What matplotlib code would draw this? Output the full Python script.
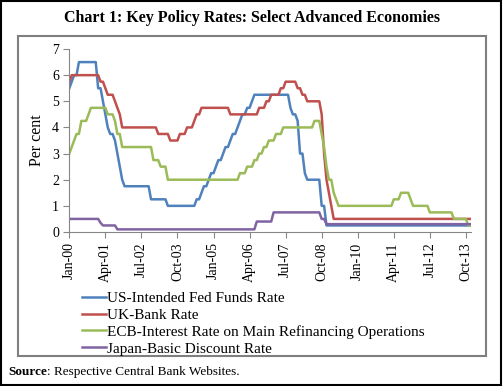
import matplotlib.pyplot as plt
from matplotlib.patches import Rectangle

plt.rcParams['font.family'] = ['Liberation Serif', 'DejaVu Serif']

# monthly policy rates, Jan-2000 .. Dec-2013 (per cent)
us_rate = (
    [5.5, 5.75, 6.0, 6.0, 6.5, 6.5, 6.5, 6.5, 6.5, 6.5, 6.5, 6.5]
    + [5.5, 5.5, 5.0, 4.5, 4.0, 3.75, 3.75, 3.5, 3.0, 2.5, 2.0, 1.75]
    + [1.75] * 10 + [1.25, 1.25]
    + [1.25] * 5 + [1.0] * 7
    + [1.0] * 5 + [1.25, 1.25, 1.5, 1.75, 1.75, 2.0, 2.25]
    + [2.25, 2.5, 2.75, 2.75, 3.0, 3.25, 3.25, 3.5, 3.75, 3.75, 4.0, 4.25]
    + [4.5, 4.5, 4.75, 4.75, 5.0] + [5.25] * 7
    + [5.25] * 8 + [4.75, 4.5, 4.5, 4.25]
    + [3.0, 3.0, 2.25, 2.0, 2.0, 2.0, 2.0, 2.0, 2.0, 1.0, 1.0, 0.25]
    + [0.25] * 60
)
uk_rate = (
    [5.75] + [6.0] * 11
    + [6.0, 5.75, 5.75, 5.5, 5.25, 5.25, 5.25, 5.0, 4.75, 4.5, 4.0, 4.0]
    + [4.0] * 12
    + [4.0] + [3.75] * 5 + [3.5] * 4 + [3.75, 3.75]
    + [3.75, 4.0, 4.0, 4.0, 4.25, 4.5, 4.5] + [4.75] * 5
    + [4.75] * 7 + [4.5] * 5
    + [4.5] * 7 + [4.75, 4.75, 4.75, 5.0, 5.0]
    + [5.25] * 4 + [5.5, 5.5] + [5.75] * 5 + [5.5]
    + [5.5, 5.25, 5.25] + [5.0] * 6 + [4.5, 3.0, 2.0]
    + [1.5, 1.0] + [0.5] * 10
    + [0.5] * 48
)
ecb_rate = (
    [3.0, 3.25, 3.5, 3.75, 3.75, 4.25, 4.25, 4.25, 4.5, 4.75, 4.75, 4.75]
    + [4.75] * 4 + [4.5, 4.5, 4.5, 4.25, 3.75, 3.75, 3.25, 3.25]
    + [3.25] * 11 + [2.75]
    + [2.75, 2.75, 2.5, 2.5, 2.5] + [2.0] * 7
    + [2.0] * 12
    + [2.0] * 11 + [2.25]
    + [2.25, 2.25, 2.5, 2.5, 2.5, 2.75, 2.75, 3.0, 3.0, 3.25, 3.25, 3.5]
    + [3.5, 3.5, 3.75, 3.75, 3.75] + [4.0] * 7
    + [4.0] * 6 + [4.25, 4.25, 4.25, 3.75, 3.25, 2.5]
    + [2.0, 2.0, 1.5, 1.25] + [1.0] * 8
    + [1.0] * 12
    + [1.0, 1.0, 1.0, 1.25, 1.25, 1.25, 1.5, 1.5, 1.5, 1.5, 1.25, 1.0]
    + [1.0] * 6 + [0.75] * 6
    + [0.75] * 4 + [0.5] * 6 + [0.25, 0.25]
)
japan_rate = (
    [0.5] * 12
    + [0.5, 0.35] + [0.25] * 6 + [0.1] * 4
    + [0.1] * 48
    + [0.1] * 6 + [0.4] * 6
    + [0.4] + [0.75] * 11
    + [0.75] * 9 + [0.5, 0.5, 0.3]
    + [0.3] * 60
)

tick_labels = ['Jan-00', 'Apr-01', 'Jul-02', 'Oct-03', 'Jan-05', 'Apr-06',
               'Jul-07', 'Oct-08', 'Jan-10', 'Apr-11', 'Jul-12', 'Oct-13']

months = list(range(len(us_rate)))

fig = plt.figure(figsize=(5.03, 3.86), dpi=100)
ax = fig.add_axes([0.1378, 0.399, 0.798, 0.474])

ax.plot(months, us_rate, color='#4F81BD', lw=1.8, label='US-Intended Fed Funds Rate')
ax.plot(months, uk_rate, color='#C0504D', lw=1.8, label='UK-Bank Rate')
ax.plot(months, ecb_rate, color='#9BBB59', lw=1.8,
        label='ECB-Interest Rate on Main Refinancing Operations')
ax.plot(months, japan_rate, color='#8064A2', lw=1.8, label='Japan-Basic Discount Rate')

ax.set_xlim(0, len(months) - 1)
ax.set_ylim(0, 7)
ax.set_yticks(range(8))
ax.set_xticks(range(0, len(months), 15))
ax.set_xticklabels(tick_labels, rotation=90)
ax.tick_params(labelsize=10, color='#868686', length=4)
for side in ['top', 'right']:
    ax.spines[side].set_visible(False)
for side in ['left', 'bottom']:
    ax.spines[side].set_color('#868686')

fig.text(37 / 503, 1 - 140 / 386, 'Per cent', rotation=90, fontsize=11.5,
         ha='center', va='center')
fig.text(0.5, 1 - 18 / 386, 'Chart 1: Key Policy Rates: Select Advanced Economies',
         fontsize=11.5, fontweight='bold', ha='center', va='center')
fig.text(8 / 503, 1 - 372 / 386, 'Source', fontsize=9.5, fontweight='bold', va='center')
fig.text(47 / 503, 1 - 372 / 386, ': Respective Central Bank Websites.', fontsize=9.5,
         va='center')

fig.legend(loc='upper left', bbox_to_anchor=(82 / 503, 1 - 291.5 / 386), frameon=False,
           fontsize=11, handlelength=1.6, handletextpad=0.05, labelspacing=0.2,
           borderpad=0, borderaxespad=0)

fig.add_artist(Rectangle((18 / 503, 1 - 356 / 386), 468 / 503, 320 / 386,
                         transform=fig.transFigure, fill=False, ec='#7F7F7F', lw=1.5))
fig.add_artist(Rectangle((0.002, 0.003), 0.995, 0.994, transform=fig.transFigure,
                         fill=False, ec='black', lw=1.5))

fig.savefig('out.png', dpi=100)
